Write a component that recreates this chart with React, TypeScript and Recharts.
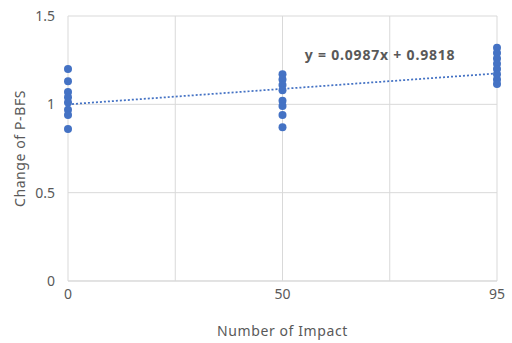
import React from 'react';
import { ScatterChart, Scatter, XAxis, YAxis, CartesianGrid, ReferenceDot } from 'recharts';

const categories = ['0', '50', '95'];
const impact0 = [1.2, 1.13, 1.07, 1.04, 1.01, 0.97, 0.94, 0.86];
const impact50 = [1.17, 1.14, 1.11, 1.08, 1.02, 0.99, 0.94, 0.87];
const impact95 = [1.32, 1.29, 1.26, 1.23, 1.2, 1.17, 1.14, 1.115];
const trendValues = [1.0, 1.175];
const yTicks = [0, 0.5, 1, 1.5];
const xGridTicks = [0, 0.5, 1, 1.5, 2];
const equation = 'y = 0.0987x + 0.9818';

const groups = [impact0, impact50, impact95];
const points = groups.flatMap((vals, i) => vals.map((v) => ({ x: i, y: v })));
const trend = [
  { x: 0, y: trendValues[0] },
  { x: categories.length - 1, y: trendValues[1] },
];

const FONT = '"Noto Sans", sans-serif';
const GRAY = '#595959';
const BLUE = '#4472C4';

export default function App() {
  return (
    <div style={{ position: 'absolute', top: 0, left: 0, width: 512, height: 343 }}>
      <ScatterChart width={512} height={343} margin={{ top: 16, right: 15, left: 8, bottom: 0 }} style={{ fontFamily: FONT }}>
        <CartesianGrid stroke="#D9D9D9" strokeWidth={1} />
        <XAxis
          type="number"
          dataKey="x"
          domain={[0, 2]}
          ticks={xGridTicks}
          tickFormatter={(v: number) => (Number.isInteger(v) ? categories[v] : '')}
          tickLine={false}
          tickSize={0}
          tickMargin={8}
          height={62}
          axisLine={{ stroke: '#D9D9D9' }}
          tick={{ fill: GRAY, fontSize: 14, fontFamily: FONT }}
          interval={0}
          label={{ value: 'Number of Impact', position: 'insideBottom', offset: 7, fill: GRAY, fontSize: 14, fontFamily: FONT, letterSpacing: 0.6 }}
        />
        <YAxis
          type="number"
          dataKey="y"
          domain={[0, 1.5]}
          ticks={yTicks}
          tickLine={false}
          tickSize={0}
          tickMargin={13}
          width={60}
          axisLine={false}
          tick={{ fill: GRAY, fontSize: 14, fontFamily: FONT }}
          interval={0}
          label={{ value: 'Change of P-BFS', angle: -90, position: 'center', dx: -18, fill: GRAY, fontSize: 14, fontFamily: FONT, letterSpacing: 0.6 }}
        />
        <Scatter
          data={trend}
          line={{ stroke: BLUE, strokeWidth: 1.75, strokeDasharray: '2 2' }}
          shape={() => <g />}
          isAnimationActive={false}
        />
        <Scatter data={points} fill={BLUE} shape={(p: any) => <circle cx={p.cx} cy={p.cy} r={4} fill={BLUE} />} isAnimationActive={false} />
        <ReferenceDot
          x={1.455}
          y={1.28}
          r={0}
          stroke="none"
          fill="none"
          label={{ value: equation, position: 'center', fill: GRAY, fontSize: 14, fontWeight: 'bold', fontFamily: FONT, letterSpacing: 0.8 }}
        />
      </ScatterChart>
    </div>
  );
}
